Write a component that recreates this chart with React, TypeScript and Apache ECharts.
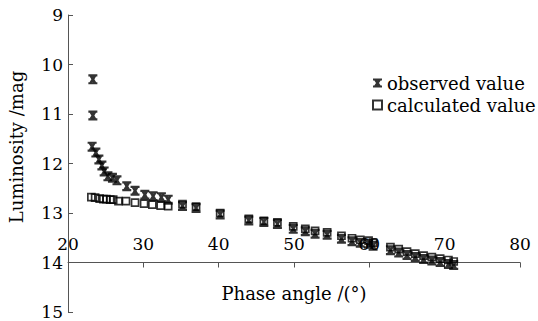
import React, { useEffect, useRef } from "react";
import * as echarts from "echarts";

const observedX = [23.3, 23.3, 23.2, 23.7, 24.1, 24.5, 24.8, 25.3, 25.9, 26.5, 27.8, 28.9, 30.2, 31.3, 32.4, 33.3, 35.2, 37.0, 40.2, 44.0, 46.0, 47.8, 49.9, 51.5, 52.8, 54.4, 56.3, 57.7, 58.8, 59.9, 60.5, 62.8, 63.9, 65.0, 66.1, 67.2, 68.3, 69.4, 70.5, 71.2];
const observedY = [10.30, 11.03, 11.66, 11.78, 11.92, 12.04, 12.16, 12.26, 12.29, 12.34, 12.46, 12.55, 12.63, 12.66, 12.68, 12.73, 12.86, 12.90, 13.03, 13.15, 13.18, 13.22, 13.32, 13.37, 13.42, 13.44, 13.52, 13.57, 13.60, 13.62, 13.66, 13.75, 13.80, 13.85, 13.89, 13.93, 13.96, 13.99, 14.03, 14.05];

const calculatedX = [23.1, 23.6, 24.2, 24.7, 25.1, 25.6, 26.0, 26.7, 27.7, 28.9, 30.1, 31.2, 32.3, 33.3, 35.2, 37.0, 40.2, 44.0, 46.0, 47.8, 49.9, 51.5, 52.8, 54.4, 56.3, 57.7, 58.8, 59.9, 60.5, 62.8, 63.9, 65.0, 66.1, 67.2, 68.3, 69.4, 70.5, 71.2];
const calculatedY = [12.68, 12.69, 12.71, 12.72, 12.72, 12.73, 12.73, 12.76, 12.76, 12.79, 12.81, 12.83, 12.85, 12.86, 12.82, 12.87, 13.00, 13.12, 13.16, 13.19, 13.27, 13.32, 13.36, 13.39, 13.46, 13.51, 13.54, 13.56, 13.60, 13.69, 13.73, 13.78, 13.82, 13.86, 13.89, 13.92, 13.95, 13.98];

const seriesNames = ["observed value", "calculated value"];
const xAxisTitle = "Phase angle /(°)";
const yAxisTitle = "Luminosity /mag";

const FONT = "DejaVu Serif";
const starPath =
  "path://M0 0H10V2.2H0Z M0 7.8H10V10H0Z M0 0L3.4 0L10 10L6.6 10Z M6.6 0L10 0L3.4 10L0 10Z";

export default function App() {
  const ref = useRef<HTMLDivElement>(null);
  useEffect(() => {
    if (!ref.current) return;
    const chart = echarts.init(ref.current, null, { renderer: "svg" });
    const obs = observedX.map((x, i) => [x, observedY[i]]);
    const calc = calculatedX.map((x, i) => [x, calculatedY[i]]);
    chart.setOption({
      animation: false,
      backgroundColor: "#ffffff",
      grid: { left: 68, top: 15, width: 452, height: 297, containLabel: false },
      legend: {
        orient: "vertical",
        left: 367,
        top: 69,
        itemGap: 4,
        itemWidth: 9,
        itemHeight: 9,
        textStyle: { fontFamily: FONT, fontSize: 18, color: "#000" },
        data: [
          { name: seriesNames[0], icon: starPath },
          { name: seriesNames[1], icon: "rect" },
        ],
      },
      xAxis: {
        type: "value",
        min: 20,
        max: 80,
        interval: 10,
        offset: -49.5,
        splitLine: { show: false },
        axisLine: { onZero: false, lineStyle: { color: "#555", width: 1 } },
        axisTick: { inside: false, length: 5, lineStyle: { color: "#555" } },
        axisLabel: {
          inside: true,
          margin: 10,
          fontFamily: FONT,
          fontSize: 17,
          color: "#000",
        },
      },
      yAxis: {
        type: "value",
        min: 9,
        max: 15,
        interval: 1,
        inverse: true,
        splitLine: { show: false },
        axisLine: { show: true, onZero: false, lineStyle: { color: "#555", width: 1 } },
        axisTick: { show: true, inside: true, length: 5, lineStyle: { color: "#555" } },
        axisLabel: { margin: 5, fontFamily: FONT, fontSize: 17, color: "#000" },
      },
      graphic: [
        {
          type: "text",
          x: 294,
          y: 293,
          style: {
            text: xAxisTitle,
            font: `18px "${FONT}"`,
            fill: "#000",
            textAlign: "center",
            textVerticalAlign: "middle",
          },
        },
        {
          type: "text",
          x: 16,
          y: 147,
          rotation: Math.PI / 2,
          style: {
            text: yAxisTitle,
            font: `18px "${FONT}"`,
            fill: "#000",
            textAlign: "center",
            textVerticalAlign: "middle",
          },
        },
      ],
      series: [
        {
          name: seriesNames[0],
          type: "scatter",
          data: obs,
          symbol: starPath,
          symbolSize: [9, 10],
          itemStyle: { color: "#000" },
        },
        {
          name: seriesNames[1],
          type: "scatter",
          data: calc,
          symbol: "rect",
          symbolSize: 7,
          itemStyle: { color: "rgba(255,255,255,0)", borderColor: "#000", borderWidth: 1.7 },
        },
      ],
    });
    return () => chart.dispose();
  }, []);
  return (
    <div
      ref={ref}
      style={{ position: "fixed", left: 0, top: 0, width: 538, height: 321 }}
    />
  );
}
